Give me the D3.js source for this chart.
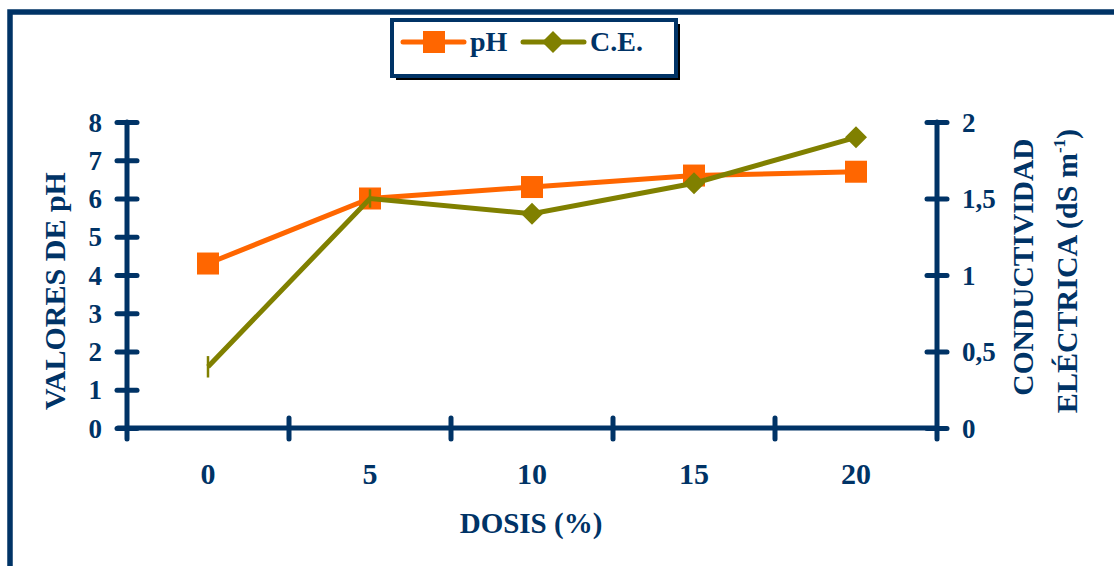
<!DOCTYPE html>
<html><head><meta charset="utf-8">
<script src="https://cdn.jsdelivr.net/npm/d3@7"></script>
<style>body{margin:0;background:#fff}svg{display:block}
text{font-family:"Liberation Serif","Tinos","Times New Roman","DejaVu Serif",serif;font-weight:bold;}
</style>
</head><body>
<svg id="c" width="1114" height="566"></svg>
<script>
// ---- data ----
const categories = ["0", "5", "10", "15", "20"];
const phValues = [4.3, 6.0, 6.3, 6.6, 6.7];
const ceValues = [0.4, 1.5, 1.4, 1.6, 1.9];
const ceErrors = [0.07, 0.06, 0, 0, 0];
const ceMarkerShown = [false, false, true, true, true];
const phTicks = [0, 1, 2, 3, 4, 5, 6, 7, 8];
const ceTicks = [0, 0.5, 1, 1.5, 2];
const ceTickLabels = ["0", "0,5", "1", "1,5", "2"];

const NAVY = "#003366", ORANGE = "#FF6600", OLIVE = "#808000";
const svg = d3.select("#c");

// outer frame
svg.append("rect").attr("x", 10).attr("y", 12).attr("width", 1140).attr("height", 600)
  .attr("fill", "none").attr("stroke", NAVY).attr("stroke-width", 5.5);

const L = 127, R = 937, T = 122, B = 428;
const x = d3.scaleBand().domain(categories).range([L, R]);
const y = d3.scaleLinear().domain([0, 8]).range([B, T]);
const y2 = d3.scaleLinear().domain([0, 2]).range([B, T]);

function styleAxis(g, size) {
  g.select(".domain").remove();
  g.attr("font-family", null).attr("font-size", null);
  g.selectAll("text").attr("fill", NAVY).style("font-size", size + "px");
}

// left axis
const gl = svg.append("g").attr("transform", `translate(${L},0)`)
  .call(d3.axisLeft(y).tickValues(phTicks).tickSize(10).tickPadding(15));
styleAxis(gl, 27);
gl.selectAll(".tick line").attr("x1", -10).attr("x2", 10)
  .attr("stroke", NAVY).attr("stroke-width", 5).attr("stroke-linecap", "round");
gl.selectAll(".tick text").attr("dy", "0.34em");
gl.append("line").attr("x1", 0).attr("x2", 0).attr("y1", T).attr("y2", B + 11)
  .attr("stroke", NAVY).attr("stroke-width", 5).attr("stroke-linecap", "round");

// right axis
const gr = svg.append("g").attr("transform", `translate(${R},0)`)
  .call(d3.axisRight(y2).tickValues(ceTicks).tickFormat((d, i) => ceTickLabels[i]).tickSize(10).tickPadding(15));
styleAxis(gr, 27);
gr.selectAll(".tick line").attr("x1", -10).attr("x2", 10)
  .attr("stroke", NAVY).attr("stroke-width", 5).attr("stroke-linecap", "round");
gr.selectAll(".tick text").attr("dy", "0.34em");
gr.append("line").attr("x1", 0).attr("x2", 0).attr("y1", T).attr("y2", B + 11)
  .attr("stroke", NAVY).attr("stroke-width", 5).attr("stroke-linecap", "round");

// bottom axis
const gb = svg.append("g").attr("transform", `translate(0,${B})`)
  .call(d3.axisBottom(x).tickSize(0).tickPadding(56));
styleAxis(gb, 30);
gb.selectAll(".tick text").attr("dy", "0");
gb.append("line").attr("x1", L - 9).attr("x2", R).attr("y1", 0).attr("y2", 0)
  .attr("stroke", NAVY).attr("stroke-width", 5).attr("stroke-linecap", "round");
const bounds = categories.slice(1).map(c => x(c));
gb.selectAll(".bt").data(bounds).enter().append("line")
  .attr("x1", d => d).attr("x2", d => d).attr("y1", -10).attr("y2", 11)
  .attr("stroke", NAVY).attr("stroke-width", 5).attr("stroke-linecap", "round");

const cx = c => x(c) + x.bandwidth() / 2;

// pH series
svg.append("path").datum(phValues)
  .attr("d", d3.line().x((d, i) => cx(categories[i])).y(d => y(d)))
  .attr("fill", "none").attr("stroke", ORANGE).attr("stroke-width", 5);
svg.selectAll(".sq").data(phValues).enter().append("rect")
  .attr("x", (d, i) => cx(categories[i]) - 11).attr("y", d => y(d) - 11)
  .attr("width", 22).attr("height", 22).attr("fill", ORANGE);

// CE series
svg.append("path").datum(ceValues)
  .attr("d", d3.line().x((d, i) => cx(categories[i])).y(d => y2(d)))
  .attr("fill", "none").attr("stroke", OLIVE).attr("stroke-width", 5);
svg.selectAll(".eb").data(ceValues.map((v, i) => ({v, e: ceErrors[i], c: categories[i]})).filter(d => d.e > 0))
  .enter().append("line")
  .attr("x1", d => cx(d.c)).attr("x2", d => cx(d.c))
  .attr("y1", d => y2(d.v - d.e)).attr("y2", d => y2(d.v + d.e))
  .attr("stroke", OLIVE).attr("stroke-width", 2.5);
const diamond = "M0,-11L11,0L0,11L-11,0Z";
svg.selectAll(".dm").data(ceValues.map((v, i) => ({v, c: categories[i], s: ceMarkerShown[i]})).filter(d => d.s))
  .enter().append("path")
  .attr("transform", d => `translate(${cx(d.c)},${y2(d.v)})`)
  .attr("d", diamond).attr("fill", OLIVE);

// axis titles
const title = (txt, tx, ty, rot, size) => svg.append("text")
  .attr("transform", `translate(${tx},${ty}) rotate(${rot})`)
  .attr("text-anchor", "middle").attr("fill", NAVY)
  .style("font-size", size + "px").text(txt);
title("VALORES DE pH", 65, 291, -90, 30);
title("DOSIS (%)", 531, 533, 0, 29);
title("CONDUCTIVIDAD", 1033, 267, -90, 29.5);
const t2 = svg.append("text")
  .attr("transform", `translate(1077,271) rotate(-90)`)
  .attr("text-anchor", "middle").attr("fill", NAVY)
  .style("font-size", "30px");
t2.append("tspan").text("ELÉCTRICA (dS m");
t2.append("tspan").style("font-size", "17px").attr("dy", -12).text("-1");
t2.append("tspan").attr("dy", 12).text(")");

// legend
const lg = svg.append("g");
lg.append("rect").attr("x", 396).attr("y", 24).attr("width", 284).attr("height", 56).attr("fill", "#000");
lg.append("rect").attr("x", 392).attr("y", 20).attr("width", 284).attr("height", 56)
  .attr("fill", "#fff").attr("stroke", NAVY).attr("stroke-width", 4);
const legendItems = [
  {name: "pH", color: ORANGE, shape: "sq", x0: 403},
  {name: "C.E.", color: OLIVE, shape: "dm", x0: 523}
];
legendItems.forEach(it => {
  lg.append("line").attr("x1", it.x0).attr("x2", it.x0 + 61).attr("y1", 42).attr("y2", 42)
    .attr("stroke", it.color).attr("stroke-width", 5).attr("stroke-linecap", "round");
  if (it.shape === "sq") lg.append("rect").attr("x", it.x0 + 20).attr("y", 31).attr("width", 22).attr("height", 22).attr("fill", it.color);
  else lg.append("path").attr("transform", `translate(${it.x0 + 30},42)`).attr("d", diamond).attr("fill", it.color);
  lg.append("text").attr("x", it.x0 + 67).attr("y", 51).attr("fill", NAVY)
    .style("font-size", "28px").text(it.name);
});
</script>
</body></html>
